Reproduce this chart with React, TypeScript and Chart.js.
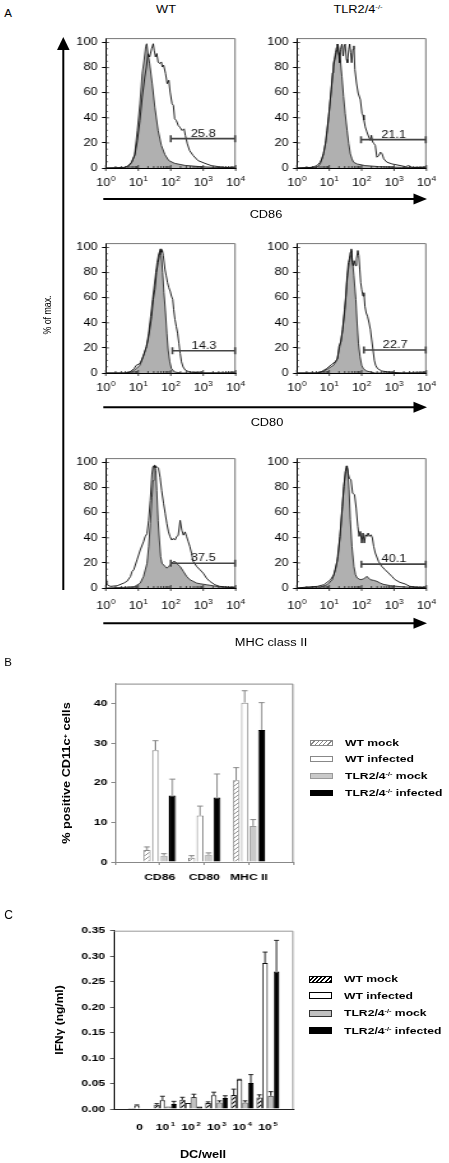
import React, { useEffect, useRef } from 'react';
import { Chart, registerables } from 'chart.js';

Chart.register(...registerables);
Chart.defaults.color = '#000';

const S = 1.28;
const FONT = "'Liberation Sans', Arial, Helvetica, sans-serif";
Chart.defaults.font.family = FONT;

type Pt = [number, number];

// ---------- Panel A: flow histograms (log10 fluorescence, % of max) ----------
const logTicks = [0, 1, 2, 3, 4];

const cd86WtMock: Pt[] = [[0,0],[0.64,0],[0.79,4],[0.89,11],[0.97,30],[1.05,51],[1.12,75],[1.18,86],[1.23,97],[1.26,99],[1.30,91],[1.35,83],[1.43,67],[1.51,48.5],[1.61,30],[1.71,18],[1.82,10.7],[1.94,5.9],[2.12,3.7],[2.43,2.1],[2.94,1],[3.56,0.3],[4,0]];
const cd86WtInfected: Pt[] = [[0,0],[0.58,0.5],[0.69,1.9],[0.79,4.5],[0.89,9.9],[0.97,21.9],[1.05,37.9],[1.12,56.5],[1.20,72.5],[1.25,80.5],[1.30,91],[1.35,88.5],[1.41,95],[1.46,99],[1.49,93.9],[1.53,88.5],[1.57,91.2],[1.61,84.5],[1.66,83.2],[1.71,84.5],[1.74,80.5],[1.78,81.9],[1.84,75.2],[1.89,67.2],[1.94,69.9],[1.98,60.5],[2.04,51.2],[2.08,49.9],[2.12,39.2],[2.17,37.9],[2.23,33.9],[2.28,32.5],[2.35,29.9],[2.41,31.2],[2.45,25.9],[2.51,19.2],[2.58,13.9],[2.69,9.9],[2.84,5.9],[3.05,3.7],[3.25,1.9],[3.46,1.1],[3.76,0.3],[4,0]];
const cd86KoMock: Pt[] = [[0,0],[0.62,0.5],[0.72,3.2],[0.82,11.3],[0.90,22],[0.96,35.5],[1.01,48.9],[1.06,62.4],[1.10,75.8],[1.13,83.9],[1.16,86.6],[1.19,91.9],[1.22,96],[1.24,98.7],[1.27,97.3],[1.31,89.2],[1.35,83.9],[1.39,73.1],[1.44,57],[1.49,43.5],[1.55,30.1],[1.60,19.4],[1.65,11.3],[1.70,7.3],[1.75,4.6],[1.86,3.2],[2.11,1.9],[2.53,1.1],[3.25,0.5],[4,0]];
const cd86KoInfected: Pt[] = [[0,0],[0.46,0.5],[0.62,1.9],[0.72,4.6],[0.77,7.3],[0.82,11.3],[0.88,19.4],[0.93,30.1],[0.98,40.9],[1.03,54.3],[1.08,67.7],[1.13,81.2],[1.19,89.2],[1.24,94.6],[1.27,98.7],[1.29,91.9],[1.32,83.9],[1.35,94.6],[1.39,98.7],[1.43,89.2],[1.46,97.3],[1.49,98.7],[1.53,86.6],[1.56,83.9],[1.60,94.6],[1.63,98.7],[1.66,91.9],[1.69,83.9],[1.73,94.6],[1.76,97.3],[1.79,78.5],[1.84,67.7],[1.89,59.7],[1.96,54.3],[2.01,43.5],[2.04,42.2],[2.07,38.2],[2.11,32.8],[2.16,28.8],[2.22,24.7],[2.27,22],[2.30,26.1],[2.34,20.7],[2.38,19.4],[2.42,18],[2.47,8.6],[2.53,9.9],[2.58,12.6],[2.63,11.3],[2.68,7.3],[2.78,4.6],[2.94,3.2],[3.14,2.2],[3.35,1.1],[3.45,1.9],[3.56,0.5],[3.87,0.3],[4,0]];
const cd80WtMock: Pt[] = [[0,0],[0.64,0],[0.79,0.8],[0.94,3.5],[1.05,6.2],[1.15,12.9],[1.25,21],[1.32,31.7],[1.38,45.2],[1.44,58.6],[1.49,69.4],[1.54,80.1],[1.58,88.2],[1.63,94.9],[1.67,97.6],[1.71,93.5],[1.75,80.1],[1.79,64],[1.84,47.8],[1.88,31.7],[1.92,18.3],[1.97,8.9],[2.02,3.5],[2.12,0.8],[2.33,0],[4,0]];
const cd80WtInfected: Pt[] = [[0,0],[0.58,0],[0.74,0.8],[0.87,3.5],[0.94,6.2],[1.05,7.5],[1.10,10.2],[1.18,15.6],[1.25,21],[1.30,26.3],[1.35,34.4],[1.41,45.2],[1.46,58.6],[1.51,66.7],[1.56,80.1],[1.61,88.2],[1.65,93.5],[1.68,98.9],[1.71,96.2],[1.74,97.6],[1.77,93.5],[1.82,82.8],[1.86,77.4],[1.90,72],[1.94,68],[1.98,65.3],[2.02,61.3],[2.06,58.6],[2.09,50.5],[2.13,42.5],[2.17,37.1],[2.21,31.7],[2.25,23.7],[2.29,15.6],[2.33,8.9],[2.38,4.8],[2.45,2.2],[2.58,0.8],[2.94,0],[4,0]];
const cd80KoMock: Pt[] = [[0,0],[0.67,0],[0.82,1.3],[0.97,3.5],[1.13,6.2],[1.23,10.2],[1.30,18.3],[1.36,26.3],[1.41,34.4],[1.47,50.5],[1.51,61.3],[1.54,72],[1.59,82.8],[1.62,88.2],[1.66,93.5],[1.68,97.6],[1.72,88.2],[1.76,77.4],[1.82,58.6],[1.86,39.8],[1.90,23.7],[1.95,12.9],[2.00,6.2],[2.05,3.5],[2.15,1.6],[2.41,0],[4,0]];
const cd80KoInfected: Pt[] = [[0,0],[0.62,0],[0.77,1.3],[0.92,3.5],[1.08,7],[1.18,8.9],[1.26,11.6],[1.30,21],[1.36,25],[1.41,34.4],[1.47,47.8],[1.51,59.9],[1.55,77.4],[1.59,88.2],[1.62,90.9],[1.65,96.2],[1.68,98.9],[1.71,88.2],[1.74,85.5],[1.77,89.5],[1.81,85.5],[1.84,90.9],[1.88,97.6],[1.91,93.5],[1.94,82.8],[1.97,72],[2.00,66.7],[2.04,61.3],[2.07,64],[2.10,53.2],[2.14,47.8],[2.18,45.2],[2.23,39.8],[2.27,34.4],[2.31,26.3],[2.35,18.3],[2.39,10.2],[2.43,6.2],[2.49,3.5],[2.62,1.6],[2.82,0.8],[3.23,0],[4,0]];
const mhcWtMock: Pt[] = [[0,0],[0.86,0.8],[1.06,3.9],[1.16,9.2],[1.27,19.7],[1.32,32.9],[1.37,51.3],[1.42,72.4],[1.45,85.5],[1.48,97.4],[1.51,97.9],[1.54,93.4],[1.57,77.6],[1.61,53.9],[1.65,38.2],[1.69,25],[1.73,19.7],[1.78,18.4],[1.83,17.1],[1.88,15.8],[1.93,17.1],[1.98,18.4],[2.03,19.7],[2.08,21.1],[2.13,21.1],[2.18,19.7],[2.23,18.4],[2.29,17.1],[2.39,13.2],[2.49,9.2],[2.59,6.6],[2.69,5.3],[2.80,3.9],[2.90,3.4],[3.10,2.6],[3.31,1.8],[3.51,0.8],[3.92,0.3],[4,0]];
const mhcWtInfected: Pt[] = [[0,9.2],[0.04,2.6],[0.14,1.3],[0.35,1.8],[0.55,3.9],[0.65,5.3],[0.76,9.2],[0.81,13.2],[0.86,14.5],[0.96,22.4],[1.06,30.3],[1.16,36.8],[1.21,40.8],[1.27,43.4],[1.32,54],[1.37,69.7],[1.42,90.8],[1.45,96.6],[1.49,97.4],[1.52,96],[1.57,96.6],[1.62,95.5],[1.67,88.2],[1.72,77.6],[1.78,67.1],[1.83,59.2],[1.88,51.3],[1.93,44.7],[1.98,40.8],[2.03,38.2],[2.08,39.5],[2.13,38.2],[2.18,40.8],[2.23,42.1],[2.29,53.9],[2.34,46],[2.39,42.1],[2.44,44.7],[2.49,40.8],[2.54,36.8],[2.59,32.9],[2.64,27.6],[2.69,21.1],[2.80,17.1],[2.90,14.5],[3.00,11.8],[3.10,7.9],[3.20,5.3],[3.36,2.6],[3.51,1.3],[3.92,0.3],[4,0]];
const mhcKoMock: Pt[] = [[0,0],[0.73,0.8],[0.94,2.7],[1.09,6.6],[1.19,14.6],[1.27,25.2],[1.33,41.1],[1.39,59.7],[1.45,80.9],[1.50,92.8],[1.53,97.3],[1.57,94.2],[1.61,78.2],[1.65,54.4],[1.70,33.2],[1.76,17.2],[1.81,10.6],[1.86,8],[1.96,6.6],[2.06,7.2],[2.16,9.3],[2.21,8],[2.27,6.6],[2.37,6.1],[2.47,5.3],[2.57,4],[2.67,2.9],[2.88,1.9],[3.18,1.1],[3.59,0.5],[4,0]];
const mhcKoInfected: Pt[] = [[0,0],[0.33,0.8],[0.63,1.3],[0.84,2.7],[1.04,6.6],[1.14,10.6],[1.24,21.2],[1.33,41.1],[1.40,65],[1.45,80.9],[1.50,92.8],[1.55,97.3],[1.58,91.5],[1.62,87.5],[1.67,86.2],[1.72,75.6],[1.78,74.3],[1.83,63.7],[1.88,49.1],[1.92,41.1],[1.96,45.1],[2.00,35.8],[2.04,43.8],[2.08,35.8],[2.12,42.4],[2.16,41.1],[2.20,43.8],[2.24,41.1],[2.29,42.4],[2.33,39.8],[2.37,33.2],[2.42,27.9],[2.52,21.2],[2.62,17.2],[2.72,14.6],[2.83,11.9],[2.93,9.3],[3.03,6.6],[3.18,4.5],[3.34,3.2],[3.49,1.3],[3.80,0.5],[4,0]];

const gateLabels = ['25.8', '21.1', '14.3', '22.7', '37.5', '40.1'];
const gateStarts = [2.0, 1.98, 2.05, 2.07, 2.0, 1.99];
const gateLevels = [23.4, 22.6, 17.7, 18.3, 19.7, 19.0];

// ---------- Panel B ----------
const bMarkers = ['CD86', 'CD80', 'MHC II'];
const bWtMock = [3.0, 1.1, 20.6];
const bWtMockErr = [0.8, 0.5, 3.2];
const bWtInfected = [28.2, 11.7, 40.2];
const bWtInfectedErr = [2.4, 2.4, 3.0];
const bKoMock = [1.6, 1.8, 9.1];
const bKoMockErr = [0.5, 0.5, 1.6];
const bKoInfected = [16.8, 16.3, 33.3];
const bKoInfectedErr = [4.1, 5.9, 6.9];

// ---------- Panel C ----------
const cDoses = ['0', '10^1', '10^2', '10^3', '10^4', '10^5'];
const cWtMock = [0.002, 0.0085, 0.018, 0.012, 0.0275, 0.0228];
const cWtMockErr = [0, 0.002, 0.005, 0.002, 0.0115, 0.005];
const cWtInfected = [0.007, 0.017, 0.012, 0.027, 0.0575, 0.2866];
const cWtInfectedErr = [0.001, 0.008, 0, 0.006, 0.0008, 0.0214];
const cKoMock = [0, 0.005, 0.0235, 0.013, 0.013, 0.026];
const cKoMockErr = [0, 0, 0.0055, 0.003, 0.003, 0.008];
const cKoInfected = [0, 0.010, 0.005, 0.0215, 0.051, 0.270];
const cKoInfectedErr = [0, 0.005, 0, 0.0045, 0.0165, 0.061];

// ---------- helpers ----------
const base = {
  animation: false,
  responsive: false,
  devicePixelRatio: 1,
  events: [],
  plugins: { legend: { display: false }, tooltip: { enabled: false } },
};

function makeHatch(color: string, lw: number, size: number) {
  const c = document.createElement('canvas');
  c.width = size; c.height = size;
  const g = c.getContext('2d')!;
  g.fillStyle = '#fff'; g.fillRect(0, 0, size, size);
  g.strokeStyle = color; g.lineWidth = lw; g.lineCap = 'square';
  g.beginPath();
  g.moveTo(0, size); g.lineTo(size, 0);
  g.moveTo(-1, 1); g.lineTo(1, -1);
  g.moveTo(size - 1, size + 1); g.lineTo(size + 1, size - 1);
  g.stroke();
  return g.createPattern(c, 'repeat');
}

function framePlugin(color: string) {
  return {
    id: 'frame',
    afterDraw(chart: any) {
      const { ctx, chartArea: a } = chart;
      ctx.save();
      ctx.strokeStyle = color; ctx.lineWidth = 1;
      ctx.beginPath();
      ctx.moveTo(a.left, a.top + 0.5); ctx.lineTo(a.right - 0.5, a.top + 0.5); ctx.lineTo(a.right - 0.5, a.bottom);
      ctx.stroke();
      ctx.restore();
    },
  };
}

function errorPlugin(errs: number[][], offset: number, color: string, lw: number) {
  return {
    id: 'errbars',
    afterDatasetsDraw(chart: any) {
      const { ctx } = chart; const y = chart.scales.y;
      ctx.save(); ctx.strokeStyle = color; ctx.lineWidth = lw;
      errs.forEach((arr, i) => {
        const meta = chart.getDatasetMeta(i);
        const vals = chart.data.datasets[i].data;
        arr.forEach((e, j) => {
          if (!e) return;
          const el = meta.data[j + offset]; const v = vals[j + offset];
          if (!el) return;
          const top = y.getPixelForValue(v + e);
          const hw = el.width * 0.42;
          ctx.beginPath();
          ctx.moveTo(el.x, el.y); ctx.lineTo(el.x, top);
          ctx.moveTo(el.x - hw, top); ctx.lineTo(el.x + hw, top);
          ctx.stroke();
        });
      });
      ctx.restore();
    },
  };
}

function drawPow(ctx: any, label: string, px: number, py: number, size: number, supSize: number, weight: string, gap: number) {
  const [b, e] = label.split('^');
  ctx.textBaseline = 'middle'; ctx.textAlign = 'left'; ctx.fillStyle = '#000';
  ctx.font = `${weight} ${size}px ${FONT}`; const w1 = ctx.measureText(b).width;
  let w2 = 0;
  if (e !== undefined) { ctx.font = `${weight} ${supSize}px ${FONT}`; w2 = ctx.measureText(e).width + gap; }
  const x0 = px - (w1 + w2) / 2;
  ctx.font = `${weight} ${size}px ${FONT}`; ctx.fillText(b, x0, py);
  if (e !== undefined) { ctx.font = `${weight} ${supSize}px ${FONT}`; ctx.fillText(e, x0 + w1 + gap, py - size * 0.38); }
}

interface BoxProps { L: number; R: number; T: number; B: number; mL: number; mT: number; mR: number; mB: number; build: () => any; }

function ChartBox(p: BoxProps) {
  const ref = useRef<HTMLCanvasElement>(null);
  const Wc = Math.round((p.mL + (p.R - p.L) + p.mR) / S);
  const Hc = Math.round(p.mT + (p.B - p.T) + p.mB);
  const leftW = p.mL / S;
  const padRight = Wc - leftW - (p.R - p.L) / S;
  const padTop = Hc - p.mB - (p.B - p.T);
  useEffect(() => {
    const cfg = p.build();
    cfg.options.layout = { padding: { left: 0, top: padTop, right: padRight, bottom: 0 } };
    cfg.options.scales.x.afterFit = (s: any) => { s.height = p.mB; s.paddingLeft = 0; s.paddingRight = 0; s.paddingTop = 0; s.paddingBottom = 0; };
    cfg.options.scales.y.afterFit = (s: any) => { s.width = leftW; s.paddingTop = 0; s.paddingBottom = 0; s.paddingLeft = 0; s.paddingRight = 0; };
    const chart = new Chart(ref.current as HTMLCanvasElement, cfg);
    return () => chart.destroy();
  }, []);
  return (
    <canvas ref={ref} width={Wc} height={Hc}
      style={{ position: 'absolute', left: p.L - p.mL, top: p.B + p.mB - Hc, width: Wc * S, height: Hc }} />
  );
}

// ---------- histogram panels ----------
const Y_MAX_A = 103.5;
const histPanels = [
  { white: cd86WtInfected, gray: cd86WtMock, g: 0, L: 105.5, R: 236, B: 167.7, lab: 15.3 },
  { white: cd86KoInfected, gray: cd86KoMock, g: 1, L: 296.5, R: 426.5, B: 167.7, lab: 15.3 },
  { white: cd80WtInfected, gray: cd80WtMock, g: 2, L: 105.5, R: 236, B: 372.5, lab: 15.5 },
  { white: cd80KoInfected, gray: cd80KoMock, g: 3, L: 296.5, R: 426.5, B: 372.5, lab: 15.5 },
  { white: mhcWtInfected, gray: mhcWtMock, g: 4, L: 105.5, R: 236, B: 588.3, lab: 18.4 },
  { white: mhcKoInfected, gray: mhcKoMock, g: 5, L: 296.5, R: 426.5, B: 588.3, lab: 18.4 },
];

function histCfg(h: any) {
  const deco = {
    id: 'histDeco',
    afterDraw(chart: any) {
      const { ctx, chartArea: a, scales: { x, y } } = chart;
      ctx.save();
      ctx.strokeStyle = '#777'; ctx.lineWidth = 1;
      ctx.beginPath();
      ctx.moveTo(a.left, a.top + 0.5); ctx.lineTo(a.right - 0.5, a.top + 0.5); ctx.lineTo(a.right - 0.5, a.bottom);
      ctx.stroke();
      ctx.strokeStyle = '#222'; ctx.lineWidth = 0.8;
      ctx.beginPath();
      for (let d = 0; d < 4; d++) for (let k = 2; k < 10; k++) {
        const px = x.getPixelForValue(d + Math.log10(k));
        ctx.moveTo(px, a.bottom); ctx.lineTo(px, a.bottom - 2);
      }
      for (const d of logTicks) { const px = x.getPixelForValue(d); ctx.moveTo(px, a.bottom - 3); ctx.lineTo(px, a.bottom + 3); }
      for (let v = 5; v <= 100; v += 5) { const py = y.getPixelForValue(v); ctx.moveTo(a.left, py); ctx.lineTo(a.left + (v % 20 === 0 ? 2.5 : 1.5), py); }
      ctx.stroke();
      for (const d of logTicks) drawPow(ctx, '10^' + d, x.getPixelForValue(d), a.bottom + h.lab, 10, 6.5, 'normal', 0.3);
      // gate
      const gx0 = x.getPixelForValue(gateStarts[h.g]);
      const gx1 = x.getPixelForValue(4) - 0.5;
      const gy = y.getPixelForValue(gateLevels[h.g]);
      ctx.strokeStyle = '#444'; ctx.lineWidth = 1.6;
      ctx.beginPath();
      ctx.moveTo(gx0, gy); ctx.lineTo(gx1, gy);
      ctx.moveTo(gx0, gy - 3.5); ctx.lineTo(gx0, gy + 3.5);
      ctx.moveTo(gx1, gy - 3.5); ctx.lineTo(gx1, gy + 3.5);
      ctx.stroke();
      ctx.font = `10px ${FONT}`; ctx.fillStyle = '#111'; ctx.textAlign = 'center'; ctx.textBaseline = 'alphabetic';
      ctx.fillText(gateLabels[h.g], x.getPixelForValue((gateStarts[h.g] + 4) / 2), gy - 1.8);
      ctx.restore();
    },
  };
  return {
    type: 'line',
    data: {
      datasets: [
        { data: h.white.map(([px, py]: Pt) => ({ x: px, y: py })), borderColor: '#111', borderWidth: 0.9, fill: false, pointRadius: 0, tension: 0 },
        { data: h.gray.map(([px, py]: Pt) => ({ x: px, y: py })), borderColor: '#2a2a2a', borderWidth: 0.9, backgroundColor: '#b0b0b0', fill: 'origin', pointRadius: 0, tension: 0 },
      ],
    },
    options: {
      ...base,
      scales: {
        x: { type: 'linear', min: 0, max: 4, ticks: { display: false }, grid: { display: false }, border: { display: true, color: '#000', width: 1 } },
        y: {
          type: 'linear', min: 0, max: Y_MAX_A,
          ticks: { stepSize: 20, includeBounds: false, padding: 3.5, font: { family: FONT, size: 10 }, color: '#000' },
          grid: { drawOnChartArea: false, tickLength: 3, color: '#000' },
          border: { display: true, color: '#000', width: 1 },
        },
      },
    },
    plugins: [deco],
  };
}

// ---------- panel B ----------
function bCfg() {
  const hatch = makeHatch('#777', 0.8, 4);
  const pad = (a: number[]) => [null, ...a, null];
  const common = { categoryPercentage: 0.76, barPercentage: 0.82, borderWidth: 1 };
  return {
    type: 'bar',
    data: {
      labels: ['', ...bMarkers, ''],
      datasets: [
        { ...common, data: pad(bWtMock), backgroundColor: hatch, borderColor: '#888' },
        { ...common, data: pad(bWtInfected), backgroundColor: '#fff', borderColor: '#888' },
        { ...common, data: pad(bKoMock), backgroundColor: '#c9c9c9', borderColor: '#999' },
        { ...common, data: pad(bKoInfected), backgroundColor: '#000', borderColor: '#000' },
      ],
    },
    options: {
      ...base,
      scales: {
        x: {
          offset: false,
          grid: { offset: false, drawOnChartArea: false, tickLength: 3, color: '#888' },
          border: { color: '#888' },
          ticks: { autoSkip: false, maxRotation: 0, minRotation: 0, padding: 7, font: { family: FONT, size: 9.5, weight: 'bold' }, color: '#000' },
        },
        y: {
          min: 0, max: 45,
          grid: { drawOnChartArea: false, tickLength: 3, color: '#888' },
          border: { color: '#888' },
          ticks: { stepSize: 10, includeBounds: false, padding: 3, font: { family: FONT, size: 9.5, weight: 'bold' }, color: '#000' },
        },
      },
    },
    plugins: [framePlugin('#888'), errorPlugin([bWtMockErr, bWtInfectedErr, bKoMockErr, bKoInfectedErr], 1, '#888', 1)],
  };
}

// ---------- panel C ----------
function cCfg() {
  const hatch = makeHatch('#000', 1.2, 4);
  const pad = (a: number[]) => [null, ...a, null];
  const common = { categoryPercentage: 0.89, barPercentage: 1.0, borderWidth: 1 };
  const labelsPlugin = {
    id: 'cLabels',
    afterDraw(chart: any) {
      const { ctx, chartArea: a, scales: { x } } = chart;
      ctx.save();
      cDoses.forEach((d, i) => drawPow(ctx, d, x.getPixelForValue(i + 1), a.bottom + 18.7, 9.5, 6, 'bold', 1.2));
      ctx.restore();
    },
  };
  return {
    type: 'bar',
    data: {
      labels: ['', ...cDoses, ''],
      datasets: [
        { ...common, data: pad(cWtMock), backgroundColor: hatch, borderColor: '#111' },
        { ...common, data: pad(cWtInfected), backgroundColor: '#fff', borderColor: '#111' },
        { ...common, data: pad(cKoMock), backgroundColor: '#c0c0c0', borderColor: '#333' },
        { ...common, data: pad(cKoInfected), backgroundColor: '#000', borderColor: '#000' },
      ],
    },
    options: {
      ...base,
      scales: {
        x: { offset: false, grid: { offset: false, display: false }, border: { color: '#222' }, ticks: { display: false } },
        y: {
          min: 0, max: 0.35,
          grid: { drawOnChartArea: false, tickLength: 3, color: '#555' },
          border: { color: '#222' },
          ticks: { stepSize: 0.05, includeBounds: false, padding: 4, font: { family: FONT, size: 9.5, weight: 'bold' }, color: '#000', callback: (v: any) => Number(v).toFixed(2) },
        },
      },
    },
    plugins: [framePlugin('#999'), errorPlugin([cWtMockErr, cWtInfectedErr, cKoMockErr, cKoInfectedErr], 1, '#222', 1), labelsPlugin],
  };
}

// ---------- HTML text helpers ----------
function Txt({ x, y, children, size = 10, bold = false, sx = S, left = false }: any) {
  return (
    <div style={{
      position: 'absolute', left: x, top: y, whiteSpace: 'nowrap', lineHeight: 1,
      fontFamily: FONT, fontSize: size, fontWeight: bold ? 'bold' : 'normal', color: '#000',
      transform: left ? `translate(0,-50%) scaleX(${sx})` : `translate(-50%,-50%) scaleX(${sx})`,
      transformOrigin: left ? 'left center' : 'center center',
    }}>{children}</div>
  );
}

function VTxt({ x, y, children, size = 10, bold = false, sx = 1 }: any) {
  return (
    <div style={{
      position: 'absolute', left: x, top: y, whiteSpace: 'nowrap', lineHeight: 1,
      fontFamily: FONT, fontSize: size, fontWeight: bold ? 'bold' : 'normal', color: '#000',
      transform: `translate(-50%,-50%) rotate(-90deg) scaleX(${sx})`, transformOrigin: 'center center',
    }}>{children}</div>
  );
}

const Sup = ({ children }: any) => (
  <span style={{ fontSize: '0.6em', position: 'relative', top: '-0.55em' }}>{children}</span>
);

const legendNames = ['WT mock', 'WT infected', 'TLR2/4', 'TLR2/4'];
const legendSuffix = ['', '', ' mock', ' infected'];

function Legend({ x, textX, rows, h, variant }: any) {
  const styles = variant === 'B'
    ? [
        { background: 'repeating-linear-gradient(135deg, #fff 0 2px, #888 2px 3px)', border: '1px solid #888' },
        { background: '#fff', border: '1px solid #888' },
        { background: '#c9c9c9', border: '1px solid #999' },
        { background: '#000', border: '1px solid #000' },
      ]
    : [
        { background: 'repeating-linear-gradient(135deg, #fff 0 1.6px, #000 1.6px 3px)', border: '1.5px solid #000' },
        { background: '#fff', border: '1.5px solid #000' },
        { background: '#c0c0c0', border: '1.5px solid #333' },
        { background: '#000', border: '1.5px solid #000' },
      ];
  return (
    <>
      {rows.map((ry: number, i: number) => (
        <React.Fragment key={i}>
          <div style={{ position: 'absolute', left: x, top: ry - h / 2, width: 23, height: h, boxSizing: 'border-box', ...styles[i] }} />
          <Txt x={textX} y={ry} size={9.5} bold left>
            {legendNames[i]}{i >= 2 ? <Sup>-/-</Sup> : null}{legendSuffix[i]}
          </Txt>
        </React.Fragment>
      ))}
    </>
  );
}

export default function App() {
  const hArrowY = [199, 407.3, 623.3];
  return (
    <div style={{ position: 'absolute', left: 0, top: 0, width: 449, height: 1163, background: '#fff', overflow: 'hidden' }}>
      {/* Panel A */}
      <Txt x={8} y={14} size={11.5} sx={1}>A</Txt>
      <Txt x={166} y={9.5} size={10}>WT</Txt>
      <Txt x={358} y={9.5} size={10}>TLR2/4<Sup>-/-</Sup></Txt>
      {histPanels.map((h, i) => (
        <ChartBox key={i} L={h.L} R={h.R} T={h.B - Y_MAX_A * 1.255} B={h.B} mL={40} mT={8} mR={16} mB={26} build={() => histCfg(h)} />
      ))}
      <svg width={449} height={1163} style={{ position: 'absolute', left: 0, top: 0, pointerEvents: 'none' }}>
        <line x1={63.3} y1={47} x2={63.3} y2={590} stroke="#000" strokeWidth={2} />
        <polygon points="63.3,37 57,50 69.6,50" fill="#000" />
        {hArrowY.map((y, i) => (
          <g key={i}>
            <line x1={103.3} y1={y} x2={416} y2={y} stroke="#000" strokeWidth={2} />
            <polygon points={`427,${y} 413.5,${y - 5.5} 413.5,${y + 5.5}`} fill="#000" />
          </g>
        ))}
      </svg>
      <Txt x={266} y={215} size={10}>CD86</Txt>
      <Txt x={267} y={423} size={10}>CD80</Txt>
      <Txt x={271} y={643} size={10}>MHC class II</Txt>
      <VTxt x={48} y={315} size={10} sx={0.88}>% of max.</VTxt>

      {/* Panel B */}
      <Txt x={8} y={663} size={11.5} sx={1}>B</Txt>
      <ChartBox L={115} R={293.3} T={683.3} B={861.7} mL={32} mT={8} mR={4} mB={26} build={bCfg} />
      <VTxt x={67} y={773} size={10} bold sx={1.27}>% positive CD11c<Sup>+</Sup> cells</VTxt>
      <Legend x={310} textX={345} rows={[742.7, 759, 776, 793.3]} h={6} variant="B" />

      {/* Panel C */}
      <Txt x={8.5} y={915} size={12} sx={1}>C</Txt>
      <ChartBox L={114} R={293.3} T={931} B={1109.3} mL={40} mT={8} mR={4} mB={28} build={cCfg} />
      <VTxt x={60} y={1020} size={10} bold sx={1.2}>IFNγ (ng/ml)</VTxt>
      <Txt x={202.7} y={1155} size={10} bold>DC/well</Txt>
      <Legend x={309} textX={344.3} rows={[979, 995.7, 1013.3, 1030.7]} h={7} variant="C" />
    </div>
  );
}
